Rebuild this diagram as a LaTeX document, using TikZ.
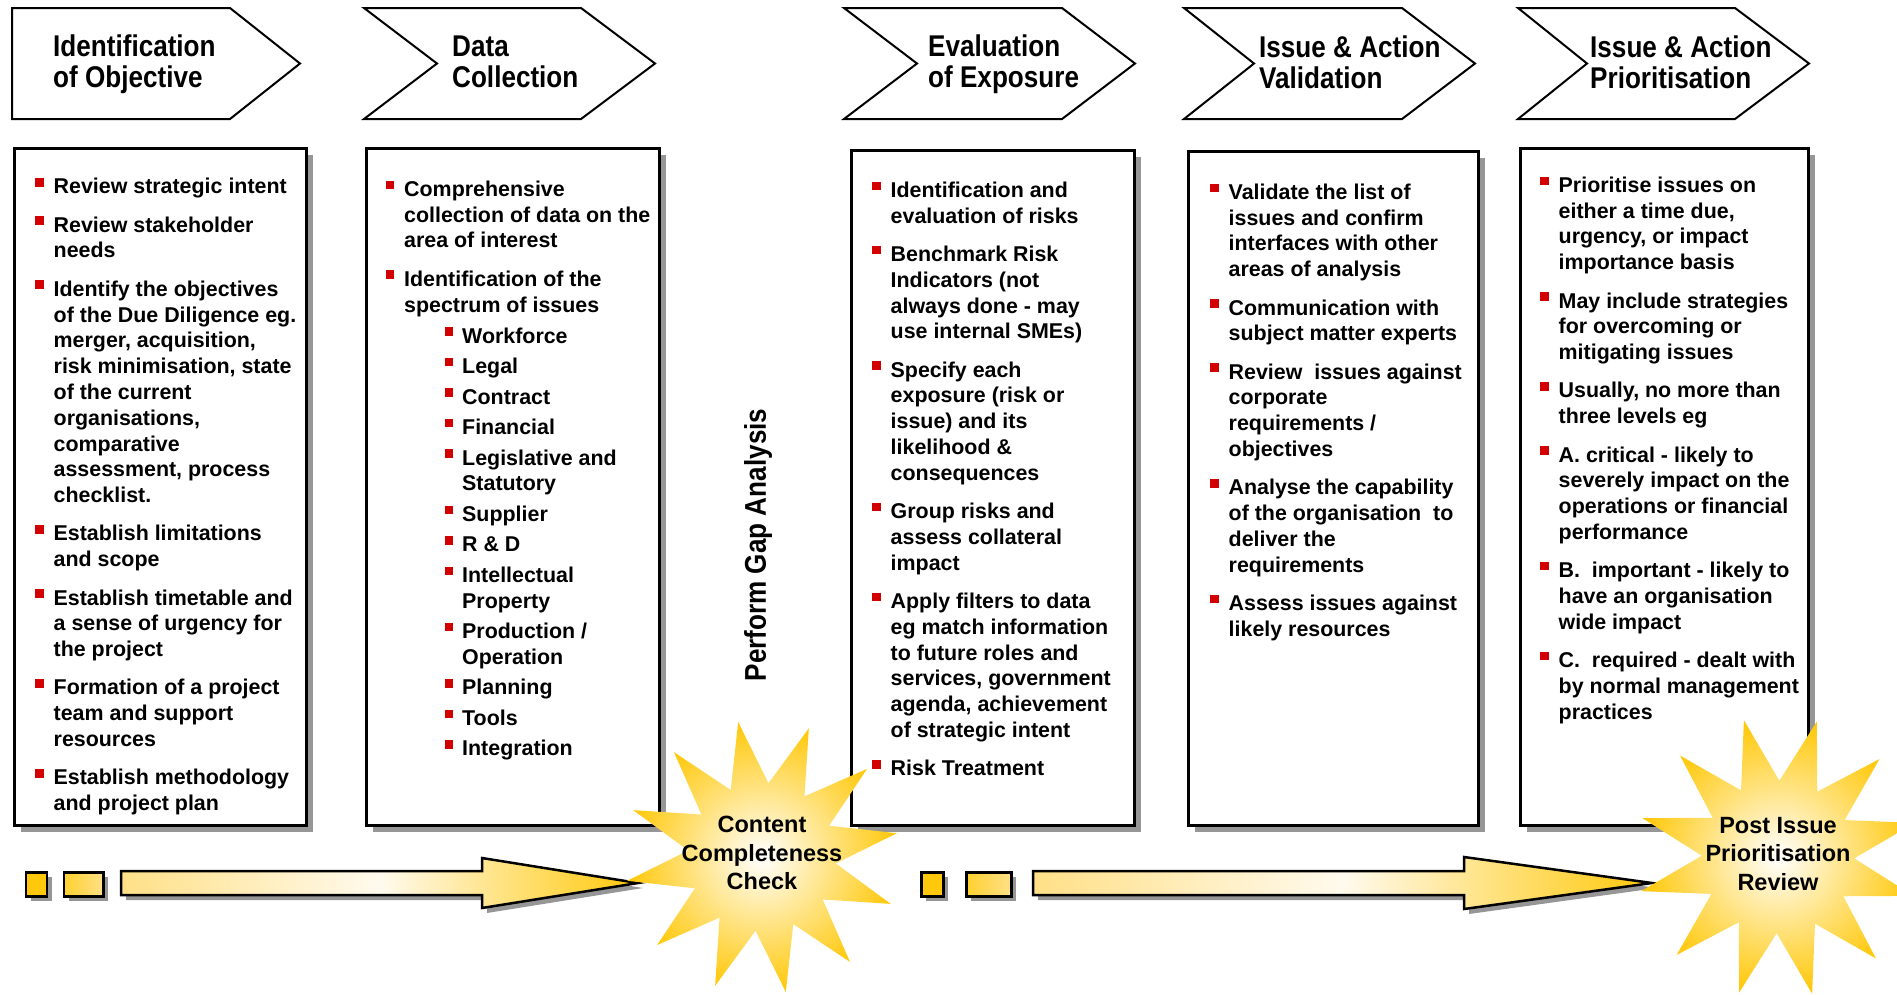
\documentclass[tikz,border=0pt]{standalone}
\usepackage{fontspec}
\setmainfont{Liberation Sans}
\newfontfamily\narrowsans[FakeStretch=0.87]{Liberation Sans}
\usepackage{xcolor}
\usetikzlibrary{shapes.geometric,shadows}

\definecolor{bulletred}{RGB}{210,0,0}
\definecolor{shadowgray}{RGB}{150,150,150}
\definecolor{sunyellow}{RGB}{255,200,10}
\definecolor{paleyellow}{RGB}{255,224,135}
\definecolor{creamwhite}{RGB}{255,250,238}

\newcommand{\redsq}{\textcolor{bulletred}{\rule[7.3pt]{8.5pt}{8.5pt}}}
\newenvironment{redlist}{\begin{list}{\redsq}{\setlength{\leftmargin}{19pt}\setlength{\labelwidth}{9pt}\setlength{\labelsep}{10pt}\setlength{\itemsep}{12.5pt}\setlength{\parsep}{0pt}\setlength{\topsep}{0pt}\setlength{\partopsep}{0pt}}\raggedright}{\end{list}}
\newenvironment{sublist}{\begin{list}{\redsq}{\setlength{\leftmargin}{58pt}\setlength{\labelwidth}{9pt}\setlength{\labelsep}{9pt}\setlength{\itemsep}{4.7pt}\setlength{\parsep}{0pt}\setlength{\topsep}{5.2pt}\setlength{\partopsep}{0pt}}\raggedright}{\end{list}}

\begin{document}
\begin{tikzpicture}[x=1pt,y=-1pt,
    chevron/.style={draw,line width=2pt,fill=white},
    phase/.style={anchor=base west,inner sep=0pt,font=\narrowsans\bfseries\fontsize{30}{31.5}\selectfont},
    panel/.style={draw,line width=3pt,fill=white,anchor=north west,inner sep=0pt,
        drop shadow={shadow xshift=6pt,shadow yshift=-6pt,fill=shadowgray,opacity=1}},
    items/.style={anchor=base west,inner sep=0pt,font=\bfseries\fontsize{21.4}{25.8}\selectfont},
    tile/.style={draw,line width=2.5pt,anchor=north west,inner sep=0pt,minimum height=24,
        drop shadow={shadow xshift=5pt,shadow yshift=-5pt,fill=shadowgray,opacity=1}},
    blockarrow/.style={draw,line width=2.5pt,left color=paleyellow,right color=sunyellow,middle color=creamwhite,
        drop shadow={shadow xshift=5pt,shadow yshift=-5pt,fill=shadowgray,opacity=1}},
    burst/.style={star,star points=12,star point ratio=1.85,inner sep=0pt,inner color=white,outer color=sunyellow},
    bursttext/.style={align=center,inner sep=0pt,font=\bfseries\fontsize{23.5}{28.3}\selectfont}]
\useasboundingbox (0,0) rectangle (1897,994);

\draw[chevron] (12,8) -- (230,8) -- (300,63.5) -- (230,119) -- (12,119) -- cycle;
\draw[chevron] (364,8) -- (581,8) -- (655,63.5) -- (581,119) -- (364,119) -- (437,63.5) -- cycle;
\draw[chevron] (844,8) -- (1062,8) -- (1135,63.5) -- (1062,119) -- (844,119) -- (917,63.5) -- cycle;
\draw[chevron] (1184,8) -- (1402,8) -- (1475,63.5) -- (1402,119) -- (1184,119) -- (1254,63.5) -- cycle;
\draw[chevron] (1518,8) -- (1735,8) -- (1809,63.5) -- (1735,119) -- (1518,119) -- (1587,63.5) -- cycle;

\node[phase] (objective) at (53,56) {\parbox[t]{200pt}{Identification\\of Objective}};
\node[phase] (collection) at (452,56) {\parbox[t]{200pt}{Data\\Collection}};
\node[phase] (exposure) at (928,56) {\parbox[t]{200pt}{Evaluation\\of Exposure}};
\node[phase] (validation) at (1259,57) {\parbox[t]{200pt}{Issue \& Action\\Validation}};
\node[phase] (prioritisation) at (1590,57) {\parbox[t]{200pt}{Issue \& Action\\Prioritisation}};

\node[panel,minimum width=292,minimum height=677] (objbox) at (13,147) {};
\node[panel,minimum width=293,minimum height=677] (collbox) at (365,147) {};
\node[panel,minimum width=283,minimum height=675] (expobox) at (850,149) {};
\node[panel,minimum width=290,minimum height=674] (validbox) at (1187,150) {};
\node[panel,minimum width=288,minimum height=677] (priobox) at (1519,147) {};

\node[items] (objtext) at (34.5,178) {\parbox[t]{300pt}{\begin{redlist}
    \item Review strategic intent
    \item Review stakeholder\\needs
    \item Identify the objectives\\of the Due Diligence eg.\\merger, acquisition,\\risk minimisation, state\\of the current\\organisations,\\comparative\\assessment, process\\checklist.
    \item Establish limitations\\and scope
    \item Establish timetable and\\a sense of urgency for\\the project
    \item Formation of a project\\team and support\\resources
    \item Establish methodology\\and project plan
\end{redlist}}};

\node[items] (colltext) at (385,180.5) {\parbox[t]{300pt}{\begin{redlist}
    \item Comprehensive\\collection of data on the\\area of interest
    \item Identification of the\\spectrum of issues
    \begin{sublist}
        \item Workforce
        \item Legal
        \item Contract
        \item Financial
        \item Legislative and\\Statutory
        \item Supplier
        \item R \& D
        \item Intellectual\\Property
        \item Production /\\Operation
        \item Planning
        \item Tools
        \item Integration
    \end{sublist}
\end{redlist}}};

\node[items] (expotext) at (871.5,181.5) {\parbox[t]{300pt}{\begin{redlist}
    \item Identification and\\evaluation of risks
    \item Benchmark Risk\\Indicators (not\\always done - may\\use internal SMEs)
    \item Specify each\\exposure (risk or\\issue) and its\\likelihood \&\\consequences
    \item Group risks and\\assess collateral\\impact
    \item Apply filters to data\\eg match information\\to future roles and\\services, government\\agenda, achievement\\of strategic intent
    \item Risk Treatment
\end{redlist}}};

\node[items] (validtext) at (1209.5,183.5) {\parbox[t]{300pt}{\begin{redlist}
    \item Validate the list of\\issues and confirm\\interfaces with other\\areas of analysis
    \item Communication with\\subject matter experts
    \item Review~ issues against\\corporate\\requirements /\\objectives
    \item Analyse the capability\\of the organisation~ to\\deliver the\\requirements
    \item Assess issues against\\likely resources
\end{redlist}}};

\node[items] (priotext) at (1539.5,176.5) {\parbox[t]{300pt}{\begin{redlist}
    \item Prioritise issues on\\either a time due,\\urgency, or impact\\importance basis
    \item May include strategies\\for overcoming or\\mitigating issues
    \item Usually, no more than\\three levels eg
    \item A. critical - likely to\\severely impact on the\\operations or financial\\performance
    \item B.~ important - likely to\\have an organisation\\wide impact
    \item C.~ required - dealt with\\by normal management\\practices
\end{redlist}}};

\node[rotate=90,inner sep=0pt,font=\narrowsans\bfseries\fontsize{30}{31.5}\selectfont] (gap) at (758,545) {Perform Gap Analysis};

\node[tile,fill=sunyellow,minimum width=21] (sqa) at (24.5,871) {};
\node[tile,left color=sunyellow!85!white,right color=paleyellow,minimum width=39.5] (sqb) at (62.5,871) {};
\path[blockarrow] (121,871) -- (482,871) -- (482,858) -- (638,883) -- (482,908) -- (482,895) -- (121,895) -- cycle;
\node[burst,minimum size=274,shape border rotate=-20] (check) at (762,857) {};
\node[bursttext] (checktext) at ([yshift=4pt]check.center) {Content\\Completeness\\Check};

\node[tile,fill=sunyellow,minimum width=22] (sqc) at (920,871) {};
\node[tile,left color=sunyellow!85!white,right color=paleyellow,minimum width=45] (sqd) at (965,871) {};
\path[blockarrow] (1033,871) -- (1464,871) -- (1464,857) -- (1652,883) -- (1464,909) -- (1464,895) -- (1033,895) -- cycle;
\node[burst,minimum size=282,shape border rotate=-16] (review) at (1778,857) {};
\node[bursttext] (reviewtext) at ([yshift=3pt]review.center) {Post Issue\\Prioritisation\\Review};
\end{tikzpicture}
\end{document}
